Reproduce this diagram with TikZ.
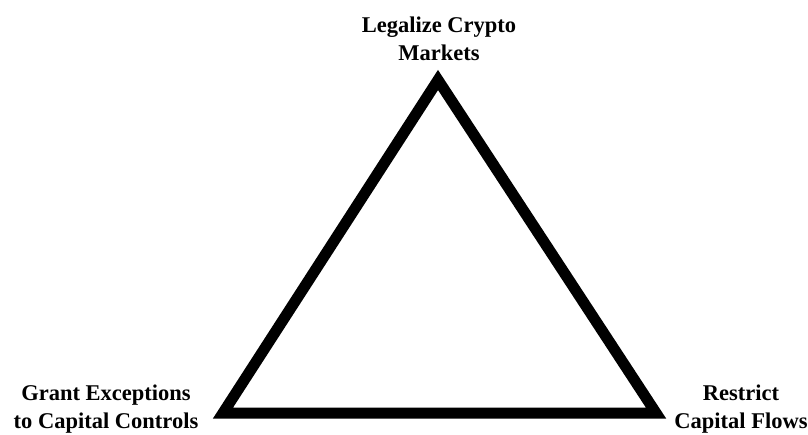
\documentclass[tikz,border=0pt]{standalone}
\usepackage{fontspec}
\setmainfont{Liberation Serif}
\usepackage{tikz}
\usetikzlibrary{positioning,calc}
\tikzset{
  goal/.style={font=\fontsize{22.5}{28}\selectfont\bfseries,align=center,inner sep=0pt},
  trilemma/.style={line width=11pt,line join=miter,draw=black}
}
\begin{document}
\begin{tikzpicture}[x=1pt,y=-1pt]
  \useasboundingbox (0,0) rectangle (808,434);
  \coordinate (top) at (438,80);
  \coordinate (bl) at (223,413);
  \coordinate (br) at (656,413);
  \draw[trilemma] (top) -- (br) -- (bl) -- cycle;
  \node[goal] (crypto) at (439,39) {Legalize Crypto\\Markets};
  \node[goal] (except) at (106,409) {Grant Exceptions\\to Capital Controls};
  \node[goal] (flows) at (741,409) {Restrict\\Capital Flows};
\end{tikzpicture}
\end{document}
